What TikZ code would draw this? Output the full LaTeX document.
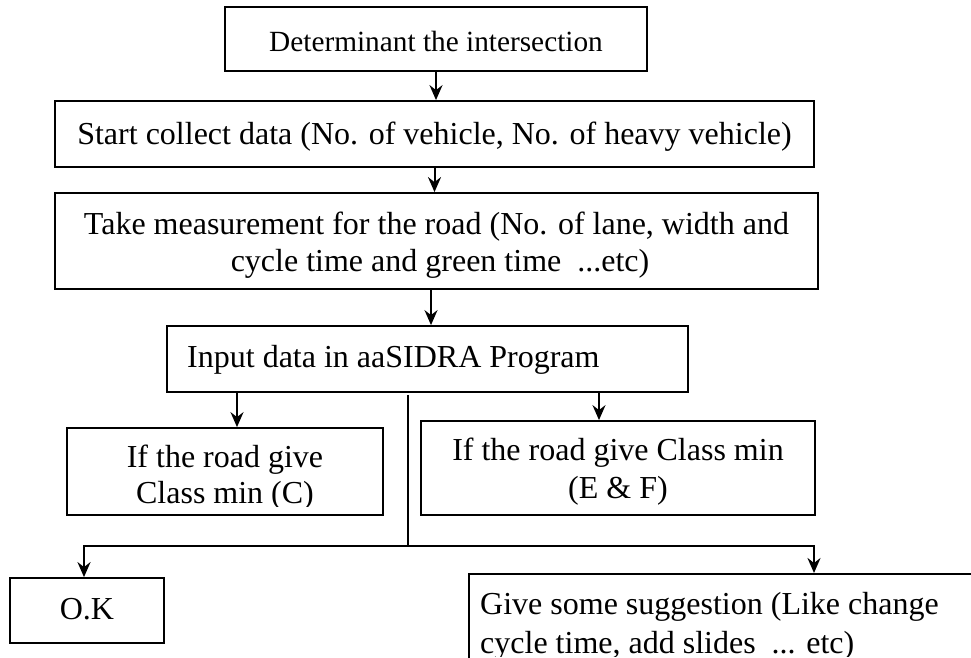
\documentclass[tikz,border=0pt]{standalone}
\usepackage{fontspec}
\setmainfont{Liberation Serif}
\usetikzlibrary{arrows.meta}
\begin{document}
\begin{tikzpicture}[x=1pt,y=-1pt,
  box/.style={draw=black, line width=1.8pt, rectangle, inner sep=0pt},
  txt/.style={font=\fontsize{32}{37}\selectfont, inner sep=0pt, anchor=base},
  arr/.style={line width=2pt, -{Stealth[length=15pt,width=13pt,inset=5pt]}},
  thinline/.style={line width=1.5pt},
]
\useasboundingbox (0,0) rectangle (971,658);
\clip (0,0) rectangle (971,658);

% boxes
\node[box, minimum width=422pt, minimum height=64pt] (b1) at (436,39) {};
\node[box, minimum width=759pt, minimum height=66pt] (b2) at (434.5,134) {};
\node[box, minimum width=763pt, minimum height=96pt] (b3) at (436.5,241) {};
\node[box, minimum width=521pt, minimum height=66pt] (b4) at (427.5,359) {};
\node[box, minimum width=316pt, minimum height=87pt] (b5) at (225,471.5) {};
\node[box, minimum width=394pt, minimum height=94pt] (b6) at (618,468) {};
\node[box, minimum width=154pt, minimum height=65pt] (ok) at (87,610.5) {};
\node[box, minimum width=540pt, minimum height=140pt, anchor=north west] (sg) at (468,573) {};

% texts
\node[txt, font=\fontsize{29.3}{35}\selectfont] (t1) at (436,52) {Determinant the intersection};
\node[txt] (t2) at (434.5,144) {Start collect data (No. of vehicle, No. of heavy vehicle)};
\node[txt] (t3a) at (436.5,234) {Take measurement for the road (No. of lane, width and};
\node[txt] (t3b) at (440,271) {cycle time and green time\ \ ...etc)};
\node[txt, anchor=base west] (t4) at (187,367) {Input data in aaSIDRA Program};
\begin{scope}
  \clip (b5.north west) rectangle ([yshift=9pt]b5.south east);
  \node[txt] (t5a) at (225,467) {If the road give};
  \node[txt] (t5b) at (225,503) {Class min (C)};
\end{scope}
\node[txt] (t6a) at (618,460) {If the road give Class min};
\node[txt] (t6b) at (618,498) {(E \& F)};
\node[txt] (tok) at (87,619) {O.K};
\begin{scope}
  \clip (sg.north west) rectangle (971,656);
  \node[txt, anchor=base west] (tsa) at (480,614) {Give some suggestion (Like change};
  \node[txt, anchor=base west] (tsb) at (480,653) {cycle time, add slides\ \ ... etc)};
\end{scope}

% helper coordinates
\coordinate (c3) at (431,0);
\coordinate (c5) at (237,0);
\coordinate (c6) at (599,0);
\coordinate (cd) at (408,0);
\coordinate (jn) at (408,546);
\coordinate (cl) at (84,0);
\coordinate (cr) at (814,0);

% connectors
\draw[arr] (b1.south) -- (b1.south |- b2.north);
\draw[arr] (b2.south) -- (b2.south |- b3.north);
\draw[arr] (b3.south -| c3) -- (b4.north -| c3);
\draw[arr] (b4.south -| c5) -- (b5.north -| c5);
\draw[arr] (b4.south -| c6) -- (b6.north -| c6);
\draw[thinline] ([yshift=-2pt]b4.south -| cd) -- (jn);
\draw[arr, line width=2.4pt] (jn) -| (ok.north -| cl);
\draw[arr, line width=2.4pt] (jn) -| (sg.north -| cr);
\end{tikzpicture}
\end{document}
